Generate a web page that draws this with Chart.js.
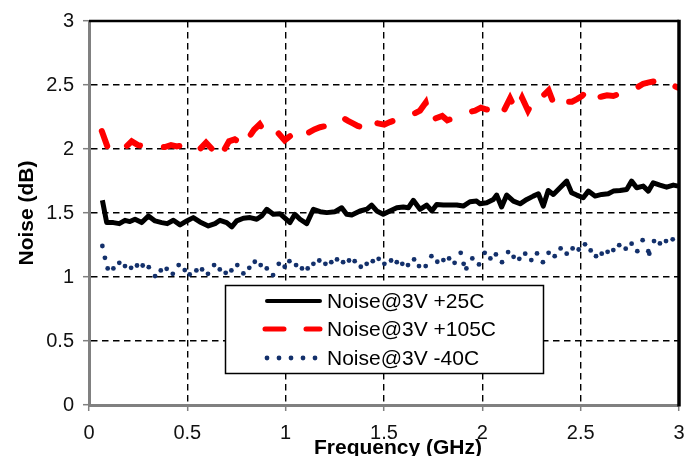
<!DOCTYPE html>
<html>
<head>
<meta charset="utf-8">
<script src="https://cdn.jsdelivr.net/npm/chart.js"></script>
<style>
    html, body { margin: 0; padding: 0; background: #ffffff; }
    #wrap { position: relative; width: 695px; height: 456px; }
</style>
</head>
<body>
<div id="wrap"><canvas id="noise"></canvas></div>
<script>
/* ---- data ---- */

var xTicks = [0, 0.5, 1, 1.5, 2, 2.5, 3];
var yTicks = [0, 0.5, 1, 1.5, 2, 2.5, 3];

var labels = ['Noise@3V +25C', 'Noise@3V +105C', 'Noise@3V -40C'];

// +25C (black solid)
var freq25 = [0.068, 0.090, 0.124, 0.154, 0.183, 0.208, 0.234, 0.268, 0.302, 0.336,
              0.370, 0.398, 0.429, 0.463, 0.497, 0.530, 0.564, 0.607, 0.641, 0.666,
              0.700, 0.726, 0.751, 0.785, 0.819, 0.853, 0.878, 0.904, 0.937, 0.971,
              1.022, 1.047, 1.073, 1.107, 1.141, 1.175, 1.209, 1.251, 1.285, 1.310,
              1.336, 1.378, 1.412, 1.437, 1.463, 1.496, 1.530, 1.565, 1.598, 1.624,
              1.649, 1.683, 1.717, 1.743, 1.768, 1.802, 1.836, 1.870, 1.903, 1.937,
              1.971, 1.988, 2.022, 2.056, 2.073, 2.098, 2.124, 2.158, 2.192, 2.226,
              2.259, 2.285, 2.310, 2.335, 2.361, 2.395, 2.429, 2.454, 2.480, 2.513,
              2.539, 2.573, 2.607, 2.640, 2.666, 2.700, 2.734, 2.759, 2.785, 2.818,
              2.844, 2.869, 2.903, 2.937, 2.971, 2.996];
var noise25 = [1.60, 1.425, 1.425, 1.417, 1.443, 1.433, 1.451, 1.425, 1.477, 1.438,
               1.425, 1.417, 1.443, 1.407, 1.438, 1.464, 1.430, 1.399, 1.417, 1.443,
               1.425, 1.391, 1.438, 1.459, 1.464, 1.451, 1.477, 1.529, 1.490, 1.495,
               1.425, 1.490, 1.451, 1.417, 1.529, 1.510, 1.503, 1.510, 1.541, 1.490,
               1.484, 1.516, 1.529, 1.562, 1.516, 1.490, 1.516, 1.541, 1.547, 1.541,
               1.599, 1.529, 1.562, 1.516, 1.567, 1.562, 1.562, 1.562, 1.554, 1.588,
               1.593, 1.572, 1.580, 1.606, 1.640, 1.547, 1.640, 1.593, 1.572, 1.606,
               1.632, 1.650, 1.554, 1.676, 1.645, 1.697, 1.749, 1.658, 1.640, 1.619,
               1.671, 1.632, 1.645, 1.650, 1.671, 1.676, 1.684, 1.749, 1.697, 1.710,
               1.671, 1.736, 1.718, 1.702, 1.718, 1.710];

// +105C (red dashed)
var freq105 = [0.065, 0.098, 0.127, 0.158, 0.183, 0.217, 0.249, 0.285, 0.315, 0.351,
               0.386, 0.417, 0.447, 0.478, 0.505, 0.534, 0.564, 0.595, 0.625, 0.656,
               0.686, 0.712, 0.741, 0.768, 0.793, 0.817, 0.839, 0.868, 0.890, 0.910,
               0.936, 0.961, 0.995, 1.022, 1.053, 1.078, 1.108, 1.146, 1.175, 1.205,
               1.230, 1.256, 1.290, 1.317, 1.342, 1.366, 1.388, 1.414, 1.443, 1.469,
               1.501, 1.530, 1.568, 1.597, 1.627, 1.658, 1.683, 1.712, 1.737, 1.764,
               1.796, 1.822, 1.851, 1.876, 1.907, 1.937, 1.963, 1.992, 2.019, 2.049,
               2.080, 2.110, 2.141, 2.171, 2.202, 2.232, 2.269, 2.298, 2.337, 2.371,
               2.395, 2.414, 2.436, 2.456, 2.481, 2.507, 2.522, 2.547, 2.578, 2.608,
               2.634, 2.666, 2.695, 2.725, 2.751, 2.786, 2.818, 2.847, 2.878, 2.903,
               2.934, 2.964, 2.996];
var noise105 = [2.14, 2.00, 2.03, 2.02, 2.01, 2.06, 2.03, 2.023, 2.03, 2.02,
                2.015, 2.03, 2.02, 2.03, 2.023, 2.04, 2.00, 2.05, 2.00, 2.065,
                1.99, 2.06, 2.075, 2.05, 2.13, 2.10, 2.15, 2.193, 2.14, 2.10,
                2.12, 2.127, 2.067, 2.10, 2.135, 2.094, 2.12, 2.153, 2.17, 2.18,
                2.19, 2.206, 2.245, 2.22, 2.20, 2.18, 2.17, 2.14, 2.206, 2.20,
                2.19, 2.21, 2.232, 2.25, 2.271, 2.28, 2.30, 2.362, 2.219, 2.24,
                2.258, 2.224, 2.24, 2.255, 2.271, 2.29, 2.30, 2.323, 2.31, 2.30,
                2.35, 2.30, 2.396, 2.30, 2.40, 2.30, 2.406, 2.40, 2.458, 2.323,
                2.34, 2.362, 2.37, 2.37, 2.39, 2.414, 2.44, 2.375, 2.40, 2.41,
                2.42, 2.414, 2.43, 2.445, 2.458, 2.48, 2.51, 2.52, 2.53, 2.544,
                2.53, 2.50, 2.479];

// -40C (navy dots)
var freqM40 = [0.068, 0.081, 0.095, 0.124, 0.154, 0.183, 0.214, 0.244, 0.273, 0.304,
               0.336, 0.365, 0.395, 0.426, 0.456, 0.487, 0.512, 0.546, 0.575, 0.605,
               0.636, 0.665, 0.695, 0.724, 0.754, 0.785, 0.815, 0.843, 0.873, 0.904,
               0.936, 0.965, 0.995, 1.019, 1.053, 1.083, 1.112, 1.141, 1.171, 1.202,
               1.232, 1.261, 1.292, 1.322, 1.351, 1.382, 1.412, 1.443, 1.473, 1.502,
               1.536, 1.565, 1.593, 1.622, 1.653, 1.678, 1.712, 1.741, 1.771, 1.802,
               1.831, 1.859, 1.890, 1.905, 1.919, 1.949, 1.983, 2.012, 2.041, 2.069,
               2.100, 2.131, 2.159, 2.188, 2.218, 2.249, 2.278, 2.308, 2.337, 2.368,
               2.398, 2.429, 2.459, 2.490, 2.522, 2.551, 2.578, 2.607, 2.637, 2.666,
               2.696, 2.729, 2.759, 2.788, 2.815, 2.844, 2.849, 2.873, 2.903, 2.934,
               2.968];
var noiseM40 = [1.242, 1.150, 1.067, 1.067, 1.111, 1.085, 1.072, 1.090, 1.090, 1.077,
                1.007, 1.051, 1.064, 1.025, 1.093, 1.054, 1.020, 1.051, 1.059, 1.025,
                1.093, 1.059, 1.033, 1.051, 1.093, 1.028, 1.072, 1.119, 1.093, 1.067,
                1.015, 1.103, 1.080, 1.124, 1.093, 1.067, 1.067, 1.103, 1.129, 1.103,
                1.116, 1.137, 1.116, 1.129, 1.124, 1.080, 1.103, 1.124, 1.142, 1.103,
                1.129, 1.116, 1.103, 1.093, 1.137, 1.085, 1.085, 1.163, 1.119, 1.132,
                1.145, 1.111, 1.189, 1.103, 1.067, 1.145, 1.098, 1.189, 1.145, 1.176,
                1.116, 1.195, 1.158, 1.142, 1.182, 1.132, 1.184, 1.116, 1.189, 1.163,
                1.223, 1.182, 1.223, 1.215, 1.255, 1.208, 1.163, 1.182, 1.197, 1.210,
                1.249, 1.221, 1.260, 1.202, 1.288, 1.202, 1.182, 1.281, 1.262, 1.281,
                1.294];

/* ---- helpers ---- */

var FONT = "'Liberation Sans', Arial, sans-serif";

function pts(xs, ys) {
    return xs.map(function (x, i) { return { x: x, y: ys[i] }; });
}

function fixedTicks(list) {
    return function (scale) {
        scale.ticks = list.map(function (v) { return { value: v }; });
    };
}

// frame (top / right), in-plot legend and x title
var overlay = {
    id: 'overlay',
    afterDraw: function (chart) {
        var ctx = chart.ctx, a = chart.chartArea;
        ctx.save();

        ctx.strokeStyle = '#000000';
        ctx.lineWidth = 2.5;
        ctx.beginPath();
        ctx.moveTo(a.left, a.top);
        ctx.lineTo(a.right, a.top);
        ctx.stroke();
        ctx.lineWidth = 3.5;
        ctx.beginPath();
        ctx.moveTo(a.right, a.top - 1.25);
        ctx.lineTo(a.right, a.bottom + 1.5);
        ctx.stroke();

        // legend box
        var bx = 225.5, by = 285.5, bw = 318, bh = 88;
        ctx.fillStyle = '#ffffff';
        ctx.fillRect(bx, by, bw, bh);
        ctx.lineWidth = 1.5;
        ctx.strokeStyle = '#000000';
        ctx.strokeRect(bx, by, bw, bh);

        var rows = [301, 329, 358];
        ctx.font = '21px ' + FONT;
        ctx.textBaseline = 'middle';
        ctx.textAlign = 'left';
        chart.data.datasets.forEach(function (ds, i) {
            var y = rows[i];
            ctx.save();
            if (ds.showLine) {
                ctx.strokeStyle = ds.borderColor;
                ctx.lineWidth = ds.borderWidth - 1;
                ctx.lineCap = 'round';
                ctx.setLineDash(ds.borderDash ? [19, 22] : []);
                ctx.beginPath();
                ctx.moveTo(ds.borderDash ? 265 : 267, y);
                ctx.lineTo(320, y);
                ctx.stroke();
            } else {
                ctx.fillStyle = ds.backgroundColor;
                for (var k = 0; k < 5; k++) {
                    ctx.beginPath();
                    ctx.arc(267 + k * 12, y, ds.pointRadius, 0, Math.PI * 2);
                    ctx.fill();
                }
            }
            ctx.restore();
            ctx.fillStyle = '#000000';
            ctx.fillText(ds.label, 327, y + 1);
        });

        ctx.font = 'bold 21px ' + FONT;
        ctx.textAlign = 'center';
        ctx.fillText('Frequency (GHz)', 398, 448);
        ctx.restore();
    }
};

function axis(ticksList) {
    return {
        type: 'linear',
        min: 0,
        max: 3,
        afterBuildTicks: fixedTicks(ticksList),
        ticks: {
            color: '#111111',
            font: { family: FONT, size: 20 },
            maxRotation: 0,
            callback: function (v) { return String(v); }
        },
        grid: {
            color: '#000000',
            lineWidth: 1.4,
            drawTicks: true,
            tickLength: 6,
            tickColor: '#808080',
            tickWidth: 1.5,
            tickBorderDash: []
        },
        border: { display: true, color: '#808080', width: 3, dash: [6.5, 4.5] }
    };
}

var xAxis = axis(xTicks);
xAxis.ticks.padding = 10;
xAxis.afterFit = function (s) { s.height = 51; };

var yAxis = axis(yTicks);
yAxis.ticks.padding = 9;
yAxis.afterFit = function (s) { s.width = 89; };
yAxis.title = {
    display: true,
    text: 'Noise (dB)',
    color: '#000000',
    font: { family: FONT, size: 21, weight: 'bold' },
    padding: { top: 15, bottom: 0 }
};

new Chart(document.getElementById('noise').getContext('2d'), {
    type: 'scatter',
    data: {
        datasets: [{
            label: labels[0],
            data: pts(freq25, noise25),
            showLine: true,
            borderColor: '#000000',
            borderWidth: 5,
            borderJoinStyle: 'round',
            pointRadius: 0,
            tension: 0
        }, {
            label: labels[1],
            data: pts(freq105, noise105),
            showLine: true,
            borderColor: '#ff0000',
            borderWidth: 6,
            borderDash: [16, 24],
            borderCapStyle: 'round',
            borderJoinStyle: 'miter',
            pointRadius: 0,
            tension: 0
        }, {
            label: labels[2],
            data: pts(freqM40, noiseM40),
            showLine: false,
            backgroundColor: '#13306b',
            borderWidth: 0,
            pointRadius: 2.4
        }]
    },
    options: {
        responsive: true,
        maintainAspectRatio: false,
        animation: false,
        events: [],
        layout: { padding: { top: 19, right: 16, left: 0, bottom: 0 } },
        plugins: {
            legend: { display: false },
            tooltip: { enabled: false }
        },
        scales: { x: xAxis, y: yAxis }
    },
    plugins: [overlay]
});
</script>
</body>
</html>
